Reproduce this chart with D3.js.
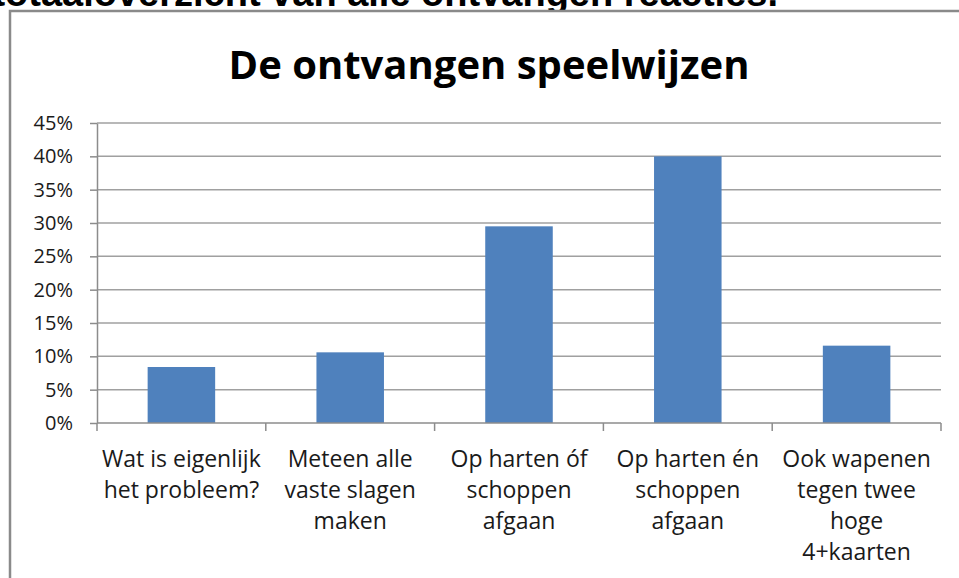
<!DOCTYPE html>
<html>
<head>
<meta charset="utf-8">
<script src="https://cdn.jsdelivr.net/npm/d3@7"></script>
<style>
  body { margin: 0; background: #fff; }
  svg { display: block; }
</style>
</head>
<body>
<div id="container"></div>
<script>
/* DATA */
var categories = [
  "Wat is eigenlijk\nhet probleem?",
  "Meteen alle\nvaste slagen\nmaken",
  "Op harten óf\nschoppen\nafgaan",
  "Op harten én\nschoppen\nafgaan",
  "Ook wapenen\ntegen twee\nhoge\n4+kaarten"
];
var values = [0.084, 0.106, 0.295, 0.40, 0.116];
var yTicks = [0, 0.05, 0.10, 0.15, 0.20, 0.25, 0.30, 0.35, 0.40, 0.45];

var chartTitle = "De ontvangen speelwijzen";
var pageText = "totaaloverzicht van alle ontvangen reacties.";

/* LAYOUT */
var W = 959, H = 578;
var plot = { left: 97, right: 941, top: 123, bottom: 423 };
var font = "'Open Sans', Lato, sans-serif";

var svg = d3.select("#container")
  .append("svg")
  .attr("width", W)
  .attr("height", H);

svg.append("rect").attr("width", W).attr("height", H).attr("fill", "#fff");

// document text, cut off at the top
svg.append("text")
  .attr("x", 778)
  .attr("y", 6)
  .attr("text-anchor", "end")
  .style("font-family", "'Liberation Sans', Arial, sans-serif")
  .style("font-weight", "bold")
  .style("font-size", "38px")
  .attr("fill", "#000")
  .text(pageText);

// chart frame
svg.append("rect")
  .attr("x", 10)
  .attr("y", 11)
  .attr("width", W + 20)
  .attr("height", H + 20)
  .attr("fill", "#fff")
  .attr("stroke", "#8a8a8a")
  .attr("stroke-width", 2.5);

// title
svg.append("text")
  .attr("x", 489)
  .attr("y", 79)
  .attr("text-anchor", "middle")
  .style("font-family", font)
  .style("font-weight", "bold")
  .style("font-size", "40px")
  .attr("fill", "#000")
  .text(chartTitle);

// SCALES
var x = d3.scaleBand()
  .domain(categories)
  .range([plot.left, plot.right])
  .paddingInner(0.6)
  .paddingOuter(0.3);

var y = d3.scaleLinear()
  .domain([0, 0.45])
  .range([plot.bottom, plot.top]);

// gridlines
svg.append("g")
  .selectAll("line")
  .data(yTicks.slice(1))
  .enter()
  .append("line")
  .attr("x1", plot.left)
  .attr("x2", plot.right)
  .attr("y1", d => y(d))
  .attr("y2", d => y(d))
  .attr("stroke", "#a0a0a0")
  .attr("stroke-width", 1.5);

// bars
svg.append("g")
  .selectAll("rect")
  .data(values)
  .enter()
  .append("rect")
  .attr("x", (d, i) => x(categories[i]))
  .attr("y", d => y(d))
  .attr("width", x.bandwidth())
  .attr("height", d => y(0) - y(d))
  .attr("fill", "#4f81bd");

// y axis
var yAxis = svg.append("g")
  .attr("transform", "translate(" + plot.left + ",0)")
  .call(d3.axisLeft(y).tickValues(yTicks).tickFormat(d3.format(".0%")).tickSize(7).tickSizeOuter(0).tickPadding(17));
yAxis.select(".domain").attr("stroke", "#8c8c8c").attr("stroke-width", 1.5);
yAxis.selectAll(".tick line").attr("stroke", "#8c8c8c").attr("stroke-width", 1.5);
yAxis.selectAll(".tick text")
  .style("font-family", font)
  .style("font-size", "20px")
  .attr("fill", "#1a1a1a");

// x axis line and ticks between categories
var step = x.step();
var xTickPos = d3.range(categories.length + 1).map(i => plot.left + i * step);
svg.append("line")
  .attr("x1", plot.left).attr("x2", plot.right)
  .attr("y1", plot.bottom).attr("y2", plot.bottom)
  .attr("stroke", "#8c8c8c").attr("stroke-width", 1.5);
svg.append("g")
  .selectAll("line")
  .data(xTickPos)
  .enter()
  .append("line")
  .attr("x1", d => d).attr("x2", d => d)
  .attr("y1", plot.bottom).attr("y2", plot.bottom + 8)
  .attr("stroke", "#8c8c8c").attr("stroke-width", 1.5);

// category labels
var labels = svg.append("g")
  .selectAll("text")
  .data(categories)
  .enter()
  .append("text")
  .attr("x", d => x(d) + x.bandwidth() / 2)
  .attr("y", 467)
  .attr("text-anchor", "middle")
  .style("font-family", font)
  .style("font-size", "23px")
  .attr("fill", "#1a1a1a");

labels.selectAll("tspan")
  .data(d => d.split("\n").map(s => ({ s: s, cx: x(d) + x.bandwidth() / 2 })))
  .enter()
  .append("tspan")
  .attr("x", d => d.cx)
  .attr("dy", (d, i) => i === 0 ? 0 : 31)
  .text(d => d.s);
</script>
</body>
</html>
